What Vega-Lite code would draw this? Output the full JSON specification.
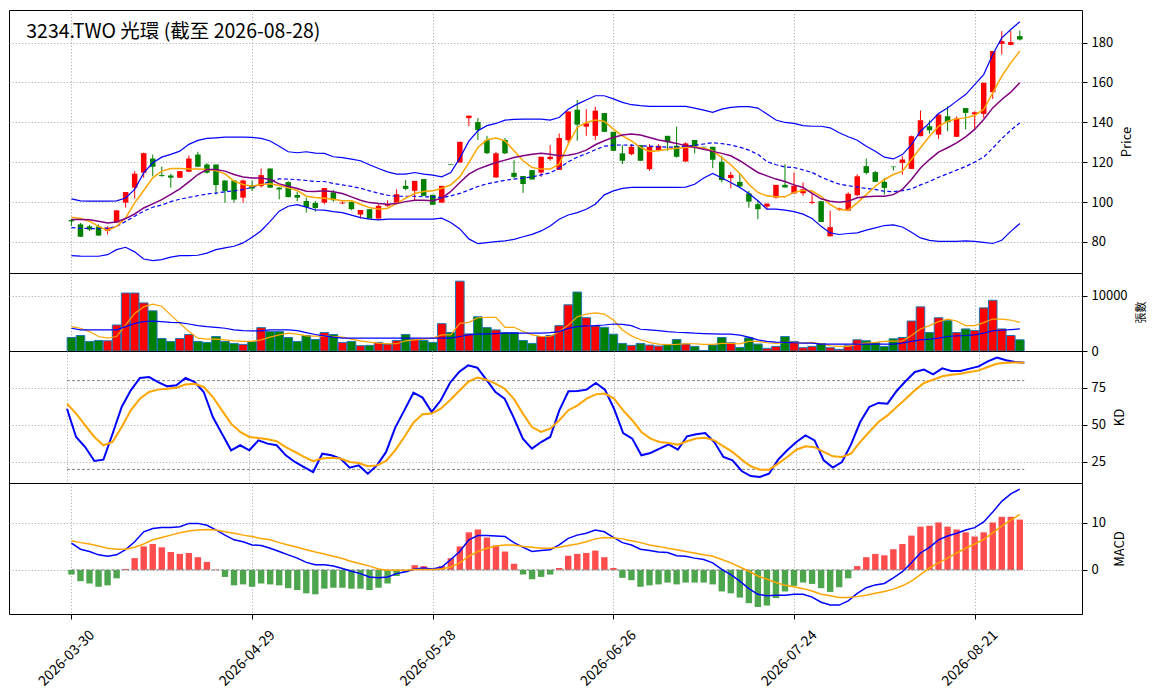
{
"$schema": "https://vega.github.io/schema/vega-lite/v6.json",
"padding": {"left": 8, "top": 9, "right": 4, "bottom": 4},
"background": "white",
"data": {"values": [
{"i":0,"d":"2026-03-30","o":91,"h":91.5,"l":88,"c":90.3,"v":2455,"m5":92.4,"m10":91.2,"mid":87.2,"up":101.6,"lo":73.1,"v5":4431,"v20":4132,"k":61,"kd":64.4,"dif":5.7,"sig":6.2,"osc":-1},
{"i":1,"d":"2026-03-31","o":88.8,"h":89.5,"l":82.5,"c":82.6,"v":2814,"m5":91.7,"m10":91.2,"mid":86.8,"up":100.6,"lo":72.9,"v5":4132,"v20":3832,"k":41.9,"kd":57.7,"dif":4.4,"sig":5.8,"osc":-2.4},
{"i":2,"d":"2026-04-01","o":87.8,"h":88.5,"l":85.5,"c":86.2,"v":1737,"m5":90.4,"m10":91.1,"mid":86.7,"up":100.4,"lo":72.8,"v5":3533,"v20":3832,"k":35.1,"kd":49.8,"dif":3.9,"sig":5.5,"osc":-2.9},
{"i":3,"d":"2026-04-02","o":87.7,"h":88.8,"l":83,"c":83.2,"v":1916,"m5":87.8,"m10":90.4,"mid":86.7,"up":100.4,"lo":72.8,"v5":2635,"v20":3832,"k":25.7,"kd":41.9,"dif":3.2,"sig":5.1,"osc":-3.6},
{"i":4,"d":"2026-04-07","o":85.5,"h":87.7,"l":83.8,"c":87.2,"v":1856,"m5":85.8,"m10":89.5,"mid":86.8,"up":100.4,"lo":73.6,"v5":2335,"v20":3832,"k":26.6,"kd":36.3,"dif":2.9,"sig":4.6,"osc":-3.3},
{"i":5,"d":"2026-04-08","o":89.7,"h":96,"l":89.5,"c":95.8,"v":4731,"m5":87.8,"m10":90,"mid":87.8,"up":100.6,"lo":76.1,"v5":2635,"v20":3832,"k":44.1,"kd":38.5,"dif":3.2,"sig":4.4,"osc":-1.8},
{"i":6,"d":"2026-04-09","o":99.7,"h":105,"l":97.2,"c":105,"v":10539,"m5":92,"m10":91.7,"mid":90.3,"up":102,"lo":77.3,"v5":4731,"v20":4431,"k":62.2,"kd":48.6,"dif":4.3,"sig":4.4,"osc":0.2},
{"i":7,"d":"2026-04-10","o":107.2,"h":115.5,"l":101.7,"c":114.2,"v":10539,"m5":99.6,"m10":94,"mid":92.9,"up":106.3,"lo":75,"v5":6826,"v20":5030,"k":73.4,"kd":59.9,"dif":6,"sig":4.8,"osc":2.5},
{"i":8,"d":"2026-04-13","o":114.7,"h":124.8,"l":112.2,"c":124.5,"v":8743,"m5":105.8,"m10":97,"mid":95.4,"up":114.6,"lo":71.4,"v5":8024,"v20":5329,"k":81.8,"kd":67.8,"dif":8.1,"sig":5.5,"osc":5},
{"i":9,"d":"2026-04-14","o":121.8,"h":123.8,"l":113,"c":117.7,"v":7305,"m5":112.1,"m10":99.1,"mid":97.4,"up":119.7,"lo":70.6,"v5":8503,"v20":5449,"k":82.4,"kd":72.3,"dif":8.8,"sig":6.4,"osc":5.5},
{"i":10,"d":"2026-04-15","o":113.5,"h":117.8,"l":112.7,"c":113,"v":2275,"m5":115.5,"m10":101.2,"mid":98.5,"up":122.5,"lo":71.1,"v5":8144,"v20":5329,"k":79,"kd":73.9,"dif":9,"sig":6.9,"osc":4.8},
{"i":11,"d":"2026-04-16","o":113.3,"h":114.2,"l":107.2,"c":112.2,"v":1737,"m5":116.8,"m10":103.8,"mid":100.2,"up":123.9,"lo":72.4,"v5":6527,"v20":5210,"k":76.1,"kd":74.5,"dif":9,"sig":7.4,"osc":3.8},
{"i":12,"d":"2026-04-17","o":112.2,"h":115.5,"l":112,"c":115.5,"v":2275,"m5":116.8,"m10":106.6,"mid":101.4,"up":125.5,"lo":73.1,"v5":5030,"v20":5150,"k":76.8,"kd":75.2,"dif":9.2,"sig":7.9,"osc":3.4},
{"i":13,"d":"2026-04-20","o":115.2,"h":123.3,"l":115,"c":121.8,"v":2994,"m5":116.6,"m10":110.1,"mid":102.3,"up":128.9,"lo":73.1,"v5":3533,"v20":4910,"k":81.8,"kd":77.3,"dif":9.9,"sig":8.3,"osc":3.6},
{"i":14,"d":"2026-04-21","o":123.8,"h":125.2,"l":117.5,"c":117.7,"v":1737,"m5":116.6,"m10":113.8,"mid":103.2,"up":130.9,"lo":73.3,"v5":2335,"v20":4611,"k":79,"kd":77.9,"dif":9.9,"sig":8.5,"osc":2.7},
{"i":15,"d":"2026-04-22","o":118.8,"h":119.5,"l":114.2,"c":114.7,"v":1557,"m5":116.3,"m10":116.3,"mid":104,"up":131.9,"lo":74.4,"v5":2156,"v20":4431,"k":72.3,"kd":75.7,"dif":9.5,"sig":8.6,"osc":1.7},
{"i":16,"d":"2026-04-23","o":118.8,"h":118.8,"l":103.8,"c":108.5,"v":2635,"m5":115.8,"m10":116.3,"mid":104.5,"up":132.2,"lo":76.1,"v5":2156,"v20":4311,"k":55.4,"kd":68.9,"dif":8.5,"sig":8.5,"osc":0.1},
{"i":17,"d":"2026-04-24","o":110.8,"h":110.8,"l":99.7,"c":105.5,"v":1737,"m5":114.1,"m10":115.5,"mid":105.1,"up":132.5,"lo":77,"v5":2036,"v20":4132,"k":44.1,"kd":59.9,"dif":7.4,"sig":8.1,"osc":-1.5},
{"i":18,"d":"2026-04-27","o":110.8,"h":110.8,"l":99.7,"c":101.2,"v":1377,"m5":110.5,"m10":113.8,"mid":105.6,"up":132.5,"lo":77.8,"v5":1856,"v20":3832,"k":32.9,"kd":50.9,"dif":6.4,"sig":7.8,"osc":-3.3},
{"i":19,"d":"2026-04-28","o":102.2,"h":111.3,"l":99.7,"c":110.8,"v":1198,"m5":108.8,"m10":112.5,"mid":106.2,"up":132.5,"lo":79.5,"v5":1737,"v20":3713,"k":36.3,"kd":45.3,"dif":6,"sig":7.4,"osc":-3.1},
{"i":20,"d":"2026-04-29","o":108.5,"h":110.8,"l":105.5,"c":106.8,"v":1677,"m5":107.9,"m10":112.1,"mid":107.4,"up":132.4,"lo":82.3,"v5":1737,"v20":3653,"k":32.9,"kd":41.9,"dif":5.3,"sig":7.1,"osc":-3.6},
{"i":21,"d":"2026-04-30","o":108,"h":116.8,"l":107.2,"c":113.5,"v":4251,"m5":108.8,"m10":112.1,"mid":108.8,"up":131.9,"lo":85.6,"v5":2036,"v20":3653,"k":39.6,"kd":41.2,"dif":5.2,"sig":6.7,"osc":-2.9},
{"i":22,"d":"2026-05-04","o":116.8,"h":116.8,"l":107.2,"c":107.2,"v":3533,"m5":109.1,"m10":111.3,"mid":110.4,"up":130.6,"lo":90.3,"v5":2515,"v20":3832,"k":37.4,"kd":40.3,"dif":4.6,"sig":6.4,"osc":-3.1},
{"i":23,"d":"2026-05-05","o":107.2,"h":107.5,"l":101.3,"c":106.3,"v":3533,"m5":108.3,"m10":109.1,"mid":111.6,"up":128,"lo":95.4,"v5":2934,"v20":3832,"k":36.3,"kd":39,"dif":3.9,"sig":5.8,"osc":-3.3},
{"i":24,"d":"2026-05-06","o":110,"h":110.5,"l":102.2,"c":102.5,"v":2455,"m5":107.1,"m10":107.9,"mid":111.5,"up":125.2,"lo":97.9,"v5":3234,"v20":3832,"k":29.5,"kd":35.1,"dif":3.2,"sig":5.3,"osc":-3.9},
{"i":25,"d":"2026-05-07","o":103.5,"h":105.2,"l":100.5,"c":102.2,"v":1737,"m5":105.8,"m10":106.8,"mid":111.2,"up":124.7,"lo":98.7,"v5":3054,"v20":3713,"k":25,"kd":31.8,"dif":2.5,"sig":4.8,"osc":-4.3},
{"i":26,"d":"2026-05-08","o":100.5,"h":102.2,"l":94.7,"c":97.5,"v":2814,"m5":102.9,"m10":105.4,"mid":110.8,"up":125.2,"lo":97.4,"v5":2754,"v20":3353,"k":21.6,"kd":28.4,"dif":1.6,"sig":4.3,"osc":-5},
{"i":27,"d":"2026-05-11","o":99.5,"h":100.5,"l":95.2,"c":97,"v":2096,"m5":102.3,"m10":105.3,"mid":110.3,"up":124.5,"lo":96,"v5":2700,"v20":3000,"k":18.2,"kd":25.5,"dif":1.1,"sig":3.8,"osc":-5.2},
{"i":28,"d":"2026-05-12","o":99.7,"h":107,"l":98.9,"c":107,"v":3353,"m5":101.9,"m10":105.6,"mid":110.3,"up":124.4,"lo":95.9,"v5":2754,"v20":2754,"k":30.6,"kd":27.3,"dif":1.1,"sig":3.4,"osc":-4},
{"i":29,"d":"2026-05-13","o":104.8,"h":106,"l":100.2,"c":100.9,"v":2994,"m5":101.4,"m10":105.1,"mid":109.3,"up":122.7,"lo":95.2,"v5":2635,"v20":2515,"k":29.5,"kd":27.9,"dif":0.8,"sig":2.9,"osc":-3.8},
{"i":30,"d":"2026-05-14","o":99.3,"h":100.5,"l":98.9,"c":99.7,"v":1557,"m5":100.6,"m10":104.3,"mid":108.6,"up":122.3,"lo":94.7,"v5":2515,"v20":2335,"k":27.3,"kd":27.3,"dif":0.3,"sig":2.4,"osc":-3.8},
{"i":31,"d":"2026-05-15","o":100,"h":100.3,"l":95.9,"c":96.4,"v":1737,"m5":100.6,"m10":102.6,"mid":107.8,"up":121.5,"lo":93.4,"v5":2156,"v20":2335,"k":21.2,"kd":25,"dif":-0.3,"sig":1.8,"osc":-4},
{"i":32,"d":"2026-05-18","o":93.7,"h":96,"l":91.7,"c":96,"v":958,"m5":98.9,"m10":100.9,"mid":106.9,"up":120.7,"lo":92.2,"v5":1856,"v20":2335,"k":22.7,"kd":24.3,"dif":-0.8,"sig":1.3,"osc":-4},
{"i":33,"d":"2026-05-19","o":96.4,"h":96.4,"l":91.7,"c":91.7,"v":1018,"m5":97.2,"m10":99.7,"mid":105.6,"up":118.7,"lo":91.4,"v5":1617,"v20":2335,"k":17.1,"kd":22.1,"dif":-1.5,"sig":0.8,"osc":-4.3},
{"i":34,"d":"2026-05-20","o":91.7,"h":98.9,"l":91.7,"c":98.1,"v":1557,"m5":96.4,"m10":99.2,"mid":104.4,"up":116.8,"lo":91,"v5":1437,"v20":2335,"k":22.7,"kd":22.7,"dif":-1.7,"sig":0.2,"osc":-3.8},
{"i":35,"d":"2026-05-21","o":98.1,"h":100.9,"l":97.6,"c":98.9,"v":1257,"m5":96.9,"m10":98.9,"mid":103.4,"up":115.1,"lo":91.4,"v5":1317,"v20":2335,"k":31.8,"kd":25.7,"dif":-1.5,"sig":-0.1,"osc":-2.9},
{"i":36,"d":"2026-05-22","o":99.7,"h":106.4,"l":99.2,"c":103.9,"v":1916,"m5":99.2,"m10":99.2,"mid":102.9,"up":114,"lo":91.4,"v5":1317,"v20":2335,"k":48.2,"kd":32.9,"dif":-0.8,"sig":-0.1,"osc":-1.3},
{"i":37,"d":"2026-05-25","o":108.1,"h":111,"l":105.9,"c":106.6,"v":2994,"m5":101.9,"m10":100.2,"mid":102.9,"up":114,"lo":91.4,"v5":1856,"v20":2335,"k":59.9,"kd":41.9,"dif":-0.4,"sig":-0.1,"osc":-0.5},
{"i":38,"d":"2026-05-26","o":105.6,"h":110.6,"l":100.6,"c":110.6,"v":2156,"m5":104.3,"m10":100.9,"mid":102.9,"up":114.8,"lo":91.4,"v5":2036,"v20":2335,"k":71.8,"kd":51.6,"dif":0.2,"sig":0.1,"osc":1},
{"i":39,"d":"2026-05-27","o":111.5,"h":111.5,"l":103.1,"c":103.1,"v":1916,"m5":105.3,"m10":100.9,"mid":102.6,"up":114,"lo":91.4,"v5":2156,"v20":2335,"k":68.5,"kd":57.2,"dif":0.4,"sig":0.1,"osc":0.8},
{"i":40,"d":"2026-05-28","o":103.6,"h":103.6,"l":98.6,"c":98.6,"v":1557,"m5":105.6,"m10":100.6,"mid":102.6,"up":113.5,"lo":91.4,"v5":2335,"v20":2335,"k":58.8,"kd":57.7,"dif":0.2,"sig":0.1,"osc":0.1},
{"i":41,"d":"2026-05-29","o":99.7,"h":108.1,"l":99.5,"c":108.1,"v":4970,"m5":106.9,"m10":101.9,"mid":102.2,"up":112.6,"lo":91.9,"v5":2934,"v20":2335,"k":66.7,"kd":61,"dif":0.6,"sig":0.2,"osc":0.8},
{"i":42,"d":"2026-06-01","o":118.9,"h":118.9,"l":118.6,"c":118.6,"v":3353,"m5":108.6,"m10":105.3,"mid":103.1,"up":114.8,"lo":89.7,"v5":2934,"v20":2335,"k":78.4,"kd":66.7,"dif":2.2,"sig":0.6,"osc":2.5},
{"i":43,"d":"2026-06-02","o":119.8,"h":130.2,"l":119.8,"c":130.2,"v":12695,"m5":112.6,"m10":109.8,"mid":104.3,"up":122,"lo":86.5,"v5":5030,"v20":2635,"k":85.8,"kd":73,"dif":3.9,"sig":1.5,"osc":5},
{"i":44,"d":"2026-06-03","o":142.1,"h":143.3,"l":138,"c":143.3,"v":3114,"m5":119.8,"m10":114,"mid":106,"up":130.5,"lo":81.5,"v5":5210,"v20":2934,"k":90.3,"kd":79.1,"dif":6.4,"sig":2.9,"osc":8},
{"i":45,"d":"2026-06-04","o":140.1,"h":142.1,"l":131.1,"c":136.1,"v":6228,"m5":127.4,"m10":116.5,"mid":107.8,"up":135.7,"lo":79.1,"v5":6048,"v20":3054,"k":88.7,"kd":82,"dif":7.3,"sig":3.9,"osc":8.6},
{"i":46,"d":"2026-06-05","o":131,"h":133.2,"l":124,"c":124.5,"v":4251,"m5":131.2,"m10":118.2,"mid":109.1,"up":138.3,"lo":79.6,"v5":6108,"v20":3114,"k":80.6,"kd":80.6,"dif":7.3,"sig":4.6,"osc":6.9},
{"i":47,"d":"2026-06-08","o":112.3,"h":125.2,"l":112.3,"c":124.4,"v":3832,"m5":132.1,"m10":119.8,"mid":110,"up":139.4,"lo":80.1,"v5":6108,"v20":3174,"k":72.3,"kd":77.9,"dif":7.2,"sig":5.1,"osc":5.2},
{"i":48,"d":"2026-06-09","o":131.1,"h":132.1,"l":124,"c":124.4,"v":3353,"m5":130.7,"m10":121,"mid":110.9,"up":141.1,"lo":80.5,"v5":4311,"v20":3234,"k":67.8,"kd":74.5,"dif":7.1,"sig":5.3,"osc":3.9},
{"i":49,"d":"2026-06-10","o":114.6,"h":121,"l":112,"c":112.6,"v":3353,"m5":125.7,"m10":122.3,"mid":111.5,"up":141.4,"lo":81.3,"v5":4311,"v20":3234,"k":55,"kd":67.8,"dif":5.8,"sig":5.3,"osc":1.3},
{"i":50,"d":"2026-06-11","o":113,"h":113,"l":104.6,"c":109,"v":1916,"m5":120.7,"m10":123.2,"mid":112,"up":141.6,"lo":82.6,"v5":3533,"v20":3234,"k":40.8,"kd":57.7,"dif":4.8,"sig":5,"osc":-1},
{"i":51,"d":"2026-06-12","o":116,"h":116,"l":111.3,"c":111.3,"v":1377,"m5":117.3,"m10":124,"mid":112.6,"up":141.6,"lo":83.8,"v5":2934,"v20":3234,"k":34,"kd":48.6,"dif":3.9,"sig":4.8,"osc":-2},
{"i":52,"d":"2026-06-15","o":114.8,"h":122.7,"l":112.6,"c":122.7,"v":2635,"m5":116.5,"m10":124.4,"mid":113.6,"up":141.6,"lo":85.5,"v5":2635,"v20":3234,"k":38.5,"kd":45.3,"dif":4.1,"sig":4.6,"osc":-1.5},
{"i":53,"d":"2026-06-16","o":121.5,"h":128.5,"l":120.7,"c":122.7,"v":2814,"m5":116.5,"m10":124,"mid":114.6,"up":141.1,"lo":88,"v5":2635,"v20":3353,"k":41.9,"kd":47.5,"dif":4.3,"sig":4.6,"osc":-1},
{"i":54,"d":"2026-06-17","o":116.1,"h":134.4,"l":116.1,"c":132.1,"v":4611,"m5":119,"m10":123.2,"mid":117,"up":142.4,"lo":91.4,"v5":3533,"v20":3533,"k":59.9,"kd":53.2,"dif":5.3,"sig":4.8,"osc":0.4},
{"i":55,"d":"2026-06-18","o":131,"h":145.5,"l":129.4,"c":145.4,"v":8400,"m5":129,"m10":123.5,"mid":120.2,"up":146.5,"lo":93.5,"v5":4700,"v20":4100,"k":72.8,"kd":60,"dif":6.7,"sig":5.2,"osc":3},
{"i":56,"d":"2026-06-22","o":146.3,"h":151.2,"l":130.7,"c":138.8,"v":10719,"m5":137.4,"m10":124.4,"mid":122.5,"up":149.1,"lo":94.7,"v5":6228,"v20":4431,"k":73,"kd":63.3,"dif":7.4,"sig":5.5,"osc":3.4},
{"i":57,"d":"2026-06-23","o":137.8,"h":146.6,"l":133.2,"c":139.4,"v":6048,"m5":139.9,"m10":126,"mid":124.2,"up":151.2,"lo":96.4,"v5":6707,"v20":4551,"k":73.9,"kd":67.8,"dif":7.8,"sig":6,"osc":3.6},
{"i":58,"d":"2026-06-24","o":133.2,"h":147.8,"l":131.1,"c":145.8,"v":4551,"m5":141.1,"m10":128.7,"mid":126.2,"up":153.3,"lo":98.9,"v5":6946,"v20":4611,"k":78.4,"kd":70.7,"dif":8.5,"sig":6.6,"osc":4.1},
{"i":59,"d":"2026-06-25","o":144.6,"h":144.6,"l":135.2,"c":135.2,"v":4311,"m5":140.4,"m10":130.7,"mid":128,"up":153.3,"lo":103.6,"v5":6707,"v20":4731,"k":73.9,"kd":71.2,"dif":8.1,"sig":6.9,"osc":2.7},
{"i":60,"d":"2026-06-26","o":135.2,"h":135.2,"l":125.7,"c":125.7,"v":3054,"m5":136.6,"m10":132.4,"mid":128.5,"up":151.7,"lo":105.6,"v5":5629,"v20":4910,"k":61,"kd":67.8,"dif":6.9,"sig":6.8,"osc":0.4},
{"i":61,"d":"2026-06-29","o":124.4,"h":128.5,"l":119,"c":120.7,"v":1377,"m5":133.2,"m10":133.6,"mid":128.6,"up":150,"lo":106.8,"v5":3832,"v20":4850,"k":44.6,"kd":59.9,"dif":5.8,"sig":6.6,"osc":-1.7},
{"i":62,"d":"2026-06-30","o":124,"h":129,"l":123.5,"c":127.7,"v":1018,"m5":130.7,"m10":134.1,"mid":128.5,"up":148.8,"lo":107.3,"v5":2754,"v20":4611,"k":40.8,"kd":53.2,"dif":5.3,"sig":6.2,"osc":-2.2},
{"i":63,"d":"2026-07-01","o":128.5,"h":128.5,"l":120.7,"c":120.7,"v":1377,"m5":127.4,"m10":133.6,"mid":128.2,"up":148.3,"lo":107.3,"v5":2036,"v20":3952,"k":29.5,"kd":45.3,"dif":4.4,"sig":5.8,"osc":-3.6},
{"i":64,"d":"2026-07-02","o":116.5,"h":129,"l":115.6,"c":127.7,"v":1078,"m5":125.4,"m10":132.4,"mid":128,"up":148,"lo":107.3,"v5":1557,"v20":3832,"k":31.1,"kd":40.8,"dif":4.1,"sig":5.3,"osc":-3.3},
{"i":65,"d":"2026-07-03","o":126,"h":129,"l":125.7,"c":128.2,"v":898,"m5":125.7,"m10":131.1,"mid":127.7,"up":148,"lo":107.3,"v5":1257,"v20":3713,"k":34,"kd":38.5,"dif":3.8,"sig":5,"osc":-3.1},
{"i":66,"d":"2026-07-06","o":133.2,"h":133.2,"l":125.7,"c":129.9,"v":1198,"m5":126.5,"m10":130.4,"mid":127.5,"up":148,"lo":107.3,"v5":1138,"v20":3533,"k":36.9,"kd":37.8,"dif":3.7,"sig":4.6,"osc":-2.7},
{"i":67,"d":"2026-07-07","o":128.2,"h":137.8,"l":122.3,"c":122.7,"v":2096,"m5":127,"m10":129.4,"mid":127.6,"up":148,"lo":107.3,"v5":1200,"v20":3413,"k":33.3,"kd":36.7,"dif":3,"sig":4.3,"osc":-3.1},
{"i":68,"d":"2026-07-08","o":120.3,"h":129.9,"l":120.3,"c":129.4,"v":1257,"m5":127.4,"m10":128.2,"mid":127.9,"up":148,"lo":107.5,"v5":1317,"v20":3353,"k":42.3,"kd":39,"dif":2.9,"sig":3.9,"osc":-2.7},
{"i":69,"d":"2026-07-09","o":131.1,"h":131.1,"l":124.4,"c":127.7,"v":838,"m5":127.7,"m10":127.4,"mid":128.4,"up":147.1,"lo":108.9,"v5":1317,"v20":3234,"k":43.7,"kd":40.8,"dif":2.5,"sig":3.6,"osc":-2.7},
{"i":70,"d":"2026-07-10","o":127.7,"h":127.7,"l":127.4,"c":127.4,"v":60,"m5":127,"m10":126.5,"mid":129.1,"up":146.1,"lo":112,"v5":1198,"v20":3174,"k":44.6,"kd":41.4,"dif":2.2,"sig":3.2,"osc":-2.7},
{"i":71,"d":"2026-07-13","o":127.7,"h":127.7,"l":117,"c":121.2,"v":1078,"m5":125.7,"m10":125.4,"mid":129.7,"up":145,"lo":114.3,"v5":1200,"v20":3114,"k":38.5,"kd":39.6,"dif":1.5,"sig":2.9,"osc":-3.1},
{"i":72,"d":"2026-07-14","o":120.2,"h":123.2,"l":109.8,"c":111,"v":2455,"m5":122.3,"m10":124.4,"mid":129.3,"up":146.6,"lo":112,"v5":1377,"v20":3054,"k":28.4,"kd":35.6,"dif":0.1,"sig":2.2,"osc":-4.6},
{"i":73,"d":"2026-07-15","o":112,"h":115.1,"l":106.9,"c":113.6,"v":1497,"m5":118.7,"m10":123.2,"mid":128.6,"up":147.5,"lo":109.8,"v5":1377,"v20":3054,"k":26.1,"kd":31.8,"dif":-1,"sig":1.5,"osc":-5},
{"i":74,"d":"2026-07-16","o":110.1,"h":114.3,"l":106.9,"c":107.8,"v":659,"m5":114.3,"m10":120.7,"mid":127.5,"up":147.8,"lo":107.3,"v5":1300,"v20":2874,"k":18.9,"kd":26.6,"dif":-2.4,"sig":0.6,"osc":-5.9},
{"i":75,"d":"2026-07-17","o":104.3,"h":105.6,"l":97.2,"c":100.2,"v":2395,"m5":108.9,"m10":117.7,"mid":126,"up":147.8,"lo":104.3,"v5":1737,"v20":2515,"k":15.5,"kd":22.1,"dif":-4,"sig":-0.3,"osc":-7.1},
{"i":76,"d":"2026-07-20","o":98.9,"h":100.6,"l":91.4,"c":96.4,"v":1257,"m5":104.8,"m10":114.8,"mid":123.9,"up":147.1,"lo":100.6,"v5":1737,"v20":2036,"k":14.9,"kd":19.8,"dif":-5.2,"sig":-1.3,"osc":-7.9},
{"i":77,"d":"2026-07-21","o":97.7,"h":99.2,"l":96.4,"c":99.2,"v":479,"m5":103.1,"m10":113.1,"mid":120.3,"up":144.1,"lo":96.4,"v5":1500,"v20":1737,"k":17.1,"kd":19.8,"dif":-5.5,"sig":-2,"osc":-7.6},
{"i":78,"d":"2026-07-22","o":102.2,"h":108.6,"l":101.7,"c":108.6,"v":838,"m5":102.6,"m10":111.5,"mid":118.7,"up":141.1,"lo":96.4,"v5":1400,"v20":1617,"k":26.6,"kd":23.9,"dif":-5.4,"sig":-2.7,"osc":-6},
{"i":79,"d":"2026-07-23","o":108.6,"h":119,"l":107.3,"c":107.3,"v":2635,"m5":102.6,"m10":110.3,"mid":117.6,"up":139.9,"lo":95.9,"v5":1557,"v20":1557,"k":32.9,"kd":28.4,"dif":-5.4,"sig":-3.3,"osc":-4.6},
{"i":80,"d":"2026-07-24","o":104.3,"h":114.8,"l":104.3,"c":108.1,"v":1737,"m5":104.8,"m10":108.6,"mid":117.3,"up":139.4,"lo":95.2,"v5":1557,"v20":1497,"k":38.5,"kd":33.3,"dif":-5.2,"sig":-3.6,"osc":-3.4},
{"i":81,"d":"2026-07-27","o":104.4,"h":109.8,"l":103.1,"c":106.4,"v":599,"m5":105.9,"m10":107.3,"mid":116.1,"up":138.3,"lo":93.9,"v5":1437,"v20":1437,"k":43,"kd":35.6,"dif":-5.2,"sig":-4,"osc":-2.7},
{"i":82,"d":"2026-07-28","o":99.6,"h":104.8,"l":98.9,"c":100.1,"v":838,"m5":105.5,"m10":104.3,"mid":114.8,"up":138,"lo":91.7,"v5":1557,"v20":1437,"k":39.6,"kd":35,"dif":-5.8,"sig":-4.5,"osc":-3},
{"i":83,"d":"2026-07-29","o":100.4,"h":100.4,"l":90,"c":90,"v":1317,"m5":102.9,"m10":101.6,"mid":112.5,"up":138,"lo":87.8,"v5":1317,"v20":1257,"k":26.1,"kd":31.8,"dif":-6.9,"sig":-5.2,"osc":-3.9},
{"i":84,"d":"2026-07-30","o":82.8,"h":95.7,"l":82.8,"c":87.4,"v":599,"m5":98.7,"m10":100.4,"mid":110.6,"up":137.2,"lo":84.5,"v5":958,"v20":1257,"k":21.2,"kd":28.8,"dif":-7.5,"sig":-5.5,"osc":-4.7},
{"i":85,"d":"2026-07-31","o":96.2,"h":97.2,"l":95.6,"c":96.8,"v":299,"m5":96.2,"m10":99.9,"mid":109,"up":134.7,"lo":83.7,"v5":838,"v20":1257,"k":25,"kd":28.4,"dif":-7.5,"sig":-5.9,"osc":-3.7},
{"i":86,"d":"2026-08-03","o":95.7,"h":104.9,"l":95.4,"c":104.1,"v":958,"m5":95.9,"m10":100.4,"mid":108.2,"up":132.7,"lo":84.2,"v5":838,"v20":1257,"k":36.9,"kd":30.6,"dif":-6.6,"sig":-5.9,"osc":-1.8},
{"i":87,"d":"2026-08-04","o":103.4,"h":113.9,"l":102.9,"c":112.9,"v":2036,"m5":99.6,"m10":102.1,"mid":107.5,"up":131,"lo":84.5,"v5":1257,"v20":1257,"k":52,"kd":38.5,"dif":-5,"sig":-5.7,"osc":0.8},
{"i":88,"d":"2026-08-05","o":118,"h":121.8,"l":113.8,"c":114.6,"v":1856,"m5":103.7,"m10":102.6,"mid":106.8,"up":128,"lo":85.9,"v5":1437,"v20":1257,"k":62.2,"kd":45.3,"dif":-3.8,"sig":-5.4,"osc":2.7},
{"i":89,"d":"2026-08-06","o":115,"h":115.5,"l":110.1,"c":110.1,"v":1497,"m5":107.9,"m10":102.9,"mid":106.3,"up":125.5,"lo":87,"v5":1557,"v20":1257,"k":64.9,"kd":52,"dif":-3.2,"sig":-5,"osc":3.4},
{"i":90,"d":"2026-08-07","o":110.1,"h":112.1,"l":103.7,"c":107.1,"v":838,"m5":111.3,"m10":102.9,"mid":105.4,"up":122.5,"lo":88.2,"v5":1737,"v20":1257,"k":64.4,"kd":56.5,"dif":-2.9,"sig":-4.6,"osc":3.1},
{"i":91,"d":"2026-08-10","o":117.8,"h":117.8,"l":115.8,"c":117.5,"v":2216,"m5":113.8,"m10":103.7,"mid":105.2,"up":121.6,"lo":88.5,"v5":1796,"v20":1257,"k":73,"kd":62.2,"dif":-1.7,"sig":-4.1,"osc":4.4},
{"i":92,"d":"2026-08-11","o":119.6,"h":123,"l":113.8,"c":121.3,"v":2455,"m5":115.5,"m10":106.3,"mid":105.7,"up":123.8,"lo":87.5,"v5":1856,"v20":1437,"k":79.7,"kd":67.8,"dif":-0.4,"sig":-3.4,"osc":5.5},
{"i":93,"d":"2026-08-12","o":116.6,"h":133.3,"l":116.6,"c":133,"v":5449,"m5":121.3,"m10":111.3,"mid":106.6,"up":128.8,"lo":84.8,"v5":2814,"v20":1737,"k":85.8,"kd":73.4,"dif":1.5,"sig":-2.4,"osc":7.3},
{"i":94,"d":"2026-08-13","o":133,"h":145.9,"l":133,"c":141,"v":8024,"m5":127.2,"m10":117.1,"mid":108.6,"up":135.5,"lo":82,"v5":4012,"v20":2036,"k":87.4,"kd":78.4,"dif":3.6,"sig":-1,"osc":9.2},
{"i":95,"d":"2026-08-14","o":138,"h":140.9,"l":134.3,"c":136,"v":3353,"m5":133,"m10":121.3,"mid":110.3,"up":139.7,"lo":80.8,"v5":4611,"v20":2156,"k":84.2,"kd":80.6,"dif":4.8,"sig":0.4,"osc":9.4},
{"i":96,"d":"2026-08-17","o":133.8,"h":143.9,"l":131.7,"c":143.9,"v":6048,"m5":138,"m10":125,"mid":112.4,"up":144.4,"lo":80.3,"v5":5329,"v20":2335,"k":88.3,"kd":82.9,"dif":6.4,"sig":1.5,"osc":10.1},
{"i":97,"d":"2026-08-18","o":143,"h":148,"l":135.5,"c":140,"v":5509,"m5":140.5,"m10":127.2,"mid":114.2,"up":147.2,"lo":80.3,"v5":5808,"v20":2635,"k":86.5,"kd":84,"dif":7.2,"sig":2.5,"osc":9.2},
{"i":98,"d":"2026-08-19","o":132.7,"h":143,"l":132.7,"c":141.9,"v":3353,"m5":141.7,"m10":129.7,"mid":116,"up":150.6,"lo":80.3,"v5":5449,"v20":2754,"k":86.5,"kd":84.7,"dif":7.8,"sig":3.6,"osc":8.6},
{"i":99,"d":"2026-08-20","o":147.1,"h":147.1,"l":136.4,"c":144.7,"v":4012,"m5":142.2,"m10":132.7,"mid":117.8,"up":153.9,"lo":80.5,"v5":4611,"v20":2814,"k":88.1,"kd":85.8,"dif":8.5,"sig":4.6,"osc":8},
{"i":100,"d":"2026-08-21","o":144,"h":145.5,"l":136.4,"c":145,"v":3713,"m5":143.4,"m10":136.4,"mid":120,"up":158.9,"lo":80.3,"v5":4611,"v20":2934,"k":89.6,"kd":86.9,"dif":9,"sig":5.5,"osc":7.1},
{"i":101,"d":"2026-08-24","o":144.2,"h":159.8,"l":142.2,"c":159.8,"v":7844,"m5":146.4,"m10":141.4,"mid":122.5,"up":163.9,"lo":79.8,"v5":5150,"v20":3234,"k":93,"kd":89.2,"dif":10.2,"sig":6.5,"osc":8},
{"i":102,"d":"2026-08-25","o":155.1,"h":175.7,"l":151.7,"c":175.7,"v":9222,"m5":154.7,"m10":147.2,"mid":127,"up":174,"lo":79.2,"v5":5808,"v20":3653,"k":95.5,"kd":91.4,"dif":12.3,"sig":7.9,"osc":10.1},
{"i":103,"d":"2026-08-26","o":179.3,"h":185.7,"l":174,"c":180.7,"v":4012,"m5":163.1,"m10":151.4,"mid":131.8,"up":182.3,"lo":80.8,"v5":5808,"v20":3772,"k":93.7,"kd":92.1,"dif":14.6,"sig":9.3,"osc":11.3},
{"i":104,"d":"2026-08-27","o":178.8,"h":185.7,"l":178.5,"c":180.2,"v":2814,"m5":169.8,"m10":155.1,"mid":136,"up":186.5,"lo":85.3,"v5":5629,"v20":3892,"k":92.6,"kd":92.3,"dif":16.2,"sig":10.6,"osc":11.3},
{"i":105,"d":"2026-08-28","o":183.2,"h":186,"l":181,"c":181.5,"v":2036,"m5":175.7,"m10":159.8,"mid":139.7,"up":190.4,"lo":89.2,"v5":5210,"v20":4012,"k":92.1,"kd":92.1,"dif":17.2,"sig":11.8,"osc":10.7}
]},
"spacing": 0,
"bounds": "flush",
"vconcat": [
{
 "width": 1073, "height": 263,
 "encoding": {"x": {"field": "i", "type": "quantitative", "scale": {"domain": [-6.36, 111.33], "nice": false, "zero": false}, "axis": {"values": [0,20,40,60,80,100], "labels": false, "ticks": false, "domain": false, "grid": true, "title": null}}},
 "layer": [
  {"mark": {"type": "rule", "strokeWidth": 1}, "encoding": {"y": {"field": "l", "type": "quantitative", "scale": {"domain": [64.4, 196.3], "nice": false, "zero": false}, "axis": {"orient": "right", "values": [80,100,120,140,160,180], "title": "Price", "titleAngle": 270, "titleBaseline": "top", "titlePadding": 8, "grid": true}}, "y2": {"field": "h"}, "color": {"condition": {"test": "datum.c >= datum.o", "value": "#ff0000"}, "value": "#008000"}}},
  {"mark": {"type": "bar", "width": 5.5}, "encoding": {"y": {"field": "o", "type": "quantitative"}, "y2": {"field": "c"}, "color": {"condition": {"test": "datum.c >= datum.o", "value": "#ff0000"}, "value": "#008000"}}},
  {"mark": {"type": "line", "color": "#0000ff", "strokeWidth": 1.2}, "encoding": {"y": {"field": "up", "type": "quantitative"}}},
  {"mark": {"type": "line", "color": "#0000ff", "strokeWidth": 1.2}, "encoding": {"y": {"field": "lo", "type": "quantitative"}}},
  {"mark": {"type": "line", "color": "#0000ff", "strokeWidth": 1.2, "strokeDash": [4, 2.5]}, "encoding": {"y": {"field": "mid", "type": "quantitative"}}},
  {"mark": {"type": "line", "color": "#ffa500", "strokeWidth": 1.5}, "encoding": {"y": {"field": "m5", "type": "quantitative"}}},
  {"mark": {"type": "line", "color": "#800080", "strokeWidth": 1.5}, "encoding": {"y": {"field": "m10", "type": "quantitative"}}},
  {"data": {"values": [{"t": "3234.TWO 光環 (截至 2026-08-28)", "tx": -5.0, "ty": 185.5}]}, "mark": {"type": "text", "align": "left", "baseline": "middle", "fontSize": 19.5, "font": "Noto Sans CJK TC", "color": "black"}, "encoding": {"text": {"field": "t"}, "x": {"field": "tx", "type": "quantitative"}, "y": {"field": "ty", "type": "quantitative"}}}
 ]
},
{
 "width": 1073, "height": 78,
 "encoding": {"x": {"field": "i", "type": "quantitative", "scale": {"domain": [-6.36, 111.33], "nice": false, "zero": false}, "axis": {"values": [0,20,40,60,80,100], "labels": false, "ticks": false, "domain": false, "grid": true, "title": null}}},
 "layer": [
  {"mark": {"type": "bar", "width": 8.6, "stroke": "#1f77b4", "strokeWidth": 1}, "encoding": {"y": {"field": "v", "type": "quantitative", "scale": {"domain": [0, 14180], "nice": false}, "axis": {"orient": "right", "values": [0, 10000], "format": "d", "title": "張數", "titleFontSize": 11, "titleAngle": 270, "titleBaseline": "top", "titlePadding": 8, "grid": true}}, "fill": {"condition": {"test": "datum.c >= datum.o", "value": "#ff0000"}, "value": "#008000"}}},
  {"mark": {"type": "line", "color": "#ffa500", "strokeWidth": 1.2}, "encoding": {"y": {"field": "v5", "type": "quantitative"}}},
  {"mark": {"type": "line", "color": "#0000ff", "strokeWidth": 1.2}, "encoding": {"y": {"field": "v20", "type": "quantitative"}}}
 ]
},
{
 "width": 1073, "height": 132,
 "encoding": {"x": {"field": "i", "type": "quantitative", "scale": {"domain": [-6.36, 111.33], "nice": false, "zero": false}, "axis": {"values": [0,20,40,60,80,100], "labels": false, "ticks": false, "domain": false, "grid": true, "title": null}}},
 "layer": [
  {"mark": {"type": "line", "color": "gray", "strokeWidth": 1, "strokeDash": [3, 2]}, "encoding": {"y": {"datum": 80, "type": "quantitative", "scale": {"domain": [10.8, 100], "nice": false, "zero": false}, "axis": {"orient": "right", "values": [25, 50, 75], "title": "KD", "titleAngle": 270, "titleBaseline": "top", "titlePadding": 8, "grid": true}}}},
  {"mark": {"type": "line", "color": "gray", "strokeWidth": 1, "strokeDash": [3, 2]}, "encoding": {"y": {"datum": 20, "type": "quantitative"}}},
  {"mark": {"type": "line", "color": "#0000ff", "strokeWidth": 2}, "encoding": {"y": {"field": "k", "type": "quantitative"}}},
  {"mark": {"type": "line", "color": "#ffa500", "strokeWidth": 2}, "encoding": {"y": {"field": "kd", "type": "quantitative"}}}
 ]
},
{
 "width": 1073, "height": 131,
 "encoding": {"x": {"field": "i", "type": "quantitative", "scale": {"domain": [-6.36, 111.33], "nice": false, "zero": false}, "axis": {"values": [0,20,40,60,80,100], "labelExpr": "['2026-03-30','2026-04-29','2026-05-28','2026-06-26','2026-07-24','2026-08-21'][round(datum.value/20)]", "labelAngle": -45, "labelAlign": "center", "labelBaseline": "middle", "labelPadding": 39, "labelOffset": -5, "labelFontSize": 14, "ticks": true, "tickSize": 5, "domain": false, "grid": true, "title": null}}},
 "layer": [
  {"mark": {"type": "bar", "width": 6.4}, "encoding": {"y": {"field": "osc", "type": "quantitative", "scale": {"domain": [-9.4, 18.5], "nice": false}, "axis": {"orient": "right", "values": [0, 10], "title": "MACD", "titleAngle": 270, "titleBaseline": "top", "titlePadding": 8, "grid": true}}, "color": {"condition": {"test": "datum.osc >= 0", "value": "#ff4d4d"}, "value": "#4da64d"}}},
  {"mark": {"type": "line", "color": "gray", "strokeWidth": 1, "strokeDash": [3, 2]}, "encoding": {"y": {"datum": 0, "type": "quantitative"}}},
  {"mark": {"type": "line", "color": "#0000ff", "strokeWidth": 1.5}, "encoding": {"y": {"field": "dif", "type": "quantitative"}}},
  {"mark": {"type": "line", "color": "#ffa500", "strokeWidth": 1.5}, "encoding": {"y": {"field": "sig", "type": "quantitative"}}}
 ]
}
],
"config": {
 "font": "Noto Sans CJK TC",
 "view": {"stroke": "black", "strokeWidth": 1},
 "axis": {"labelFont": "Noto Sans CJK TC", "labelFontSize": 13, "labelColor": "black", "labelPadding": 4, "titleFont": "Noto Sans CJK TC", "titleFontSize": 13, "titleFontWeight": "normal", "titleColor": "black", "gridColor": "#b0b0b0", "gridDash": [1.2, 2], "gridWidth": 1, "tickColor": "black", "tickSize": 5, "domain": false}
}
}
